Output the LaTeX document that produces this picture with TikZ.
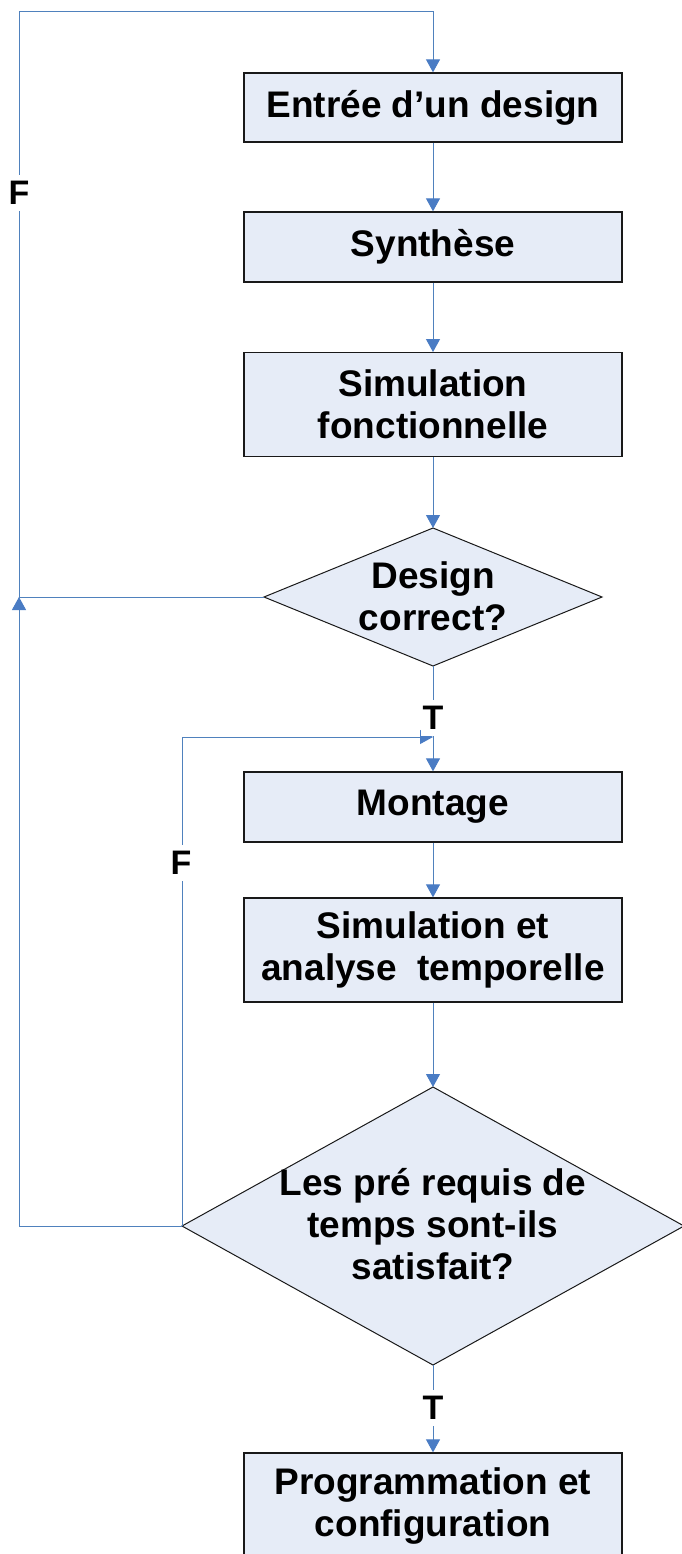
\documentclass[tikz,border=0pt]{standalone}
\usepackage{fontspec}
\setmainfont{Liberation Sans}
\usetikzlibrary{arrows.meta,shapes.geometric}
\definecolor{boxfill}{HTML}{E6ECF7}
\definecolor{linec}{HTML}{4F81BD}
\definecolor{tipc}{HTML}{4A7CC4}
\begin{document}
\begin{tikzpicture}[x=1pt,y=-1pt,
  stepbox/.style={draw=black!90,line width=1.3pt,fill=boxfill,minimum width=378pt,inner sep=0pt,align=center,font=\bfseries\fontsize{37}{42}\selectfont},
  decbox/.style={draw=black!90,line width=1pt,fill=boxfill,diamond,inner sep=0pt,outer sep=0pt},
  txt/.style={align=center,font=\bfseries\fontsize{37}{42}\selectfont,inner sep=0pt},
  conn/.style={draw=linec,line width=1pt},
  arr/.style={conn,-{Triangle[length=13pt,width=14pt,fill=tipc,color=tipc]}},
  lab/.style={fill=white,font=\bfseries\fontsize{34}{40}\selectfont,inner xsep=2pt,inner ysep=6pt}]
\useasboundingbox (0,0) rectangle (682,1554);

% boxes
\node[stepbox,minimum height=69pt] (b1) at (433,107.5) {Entrée d’un design};
\node[stepbox,minimum height=70pt] (b2) at (433,247) {Synthèse};
\node[stepbox,minimum height=104pt] (b3) at (433,404.7) {Simulation\\fonctionnelle};
\node[decbox,minimum width=338pt,minimum height=138pt] (d1) at (433,597) {};
\node[txt] (d1t) at (433,596) {Design\\correct?};
\node[stepbox,minimum height=70pt] (b4) at (433,807) {Montage};
\node[stepbox,minimum height=104pt] (b5) at (433,950) {Simulation et\\analyse~ temporelle};
\node[decbox,minimum width=502pt,minimum height=278pt] (d2) at (433,1226) {};
\node[txt] (d2t) at (433,1224) {Les pré requis de\\temps sont-ils\\satisfait?};
\node[stepbox,minimum height=105pt] (b6) at (433,1505.5) {Programmation et\\configuration};

% coordinates for connectors
\coordinate (tl) at (19,12);
\coordinate (tr) at (433,12);
\coordinate (jn) at (19,597);
\coordinate (bl) at (19,1226);
\coordinate (il) at (182,737);
\coordinate (jn2) at (433,737);

% straight flow
\draw[arr] (b1) -- (b2);
\draw[arr] (b2) -- (b3);
\draw[arr] (b3) -- (d1);
\draw[arr] (d1.south) -- (b4.north);
\draw[arr] (b4) -- (b5);
\draw[arr] (b5) -- (d2);
\draw[arr] (d2.south) -- (b6.north);

% outer loop
\draw[conn] (d1.west) -- (jn);
\draw[arr] (d2.west) -- (bl) -- (jn);
\draw[arr] (jn) -- (tl) -- (tr) -- (b1.north);

% inner loop
\draw[arr] (d2.west) -- (il) -- (jn2);

% labels
\node[lab] (f1) at (19,193) {F};
\node[lab] (f2) at (181,863) {F};
\node[lab] (t1) at (433,718) {T};
\node[lab] (t2) at (433,1408) {T};
\end{tikzpicture}
\end{document}
